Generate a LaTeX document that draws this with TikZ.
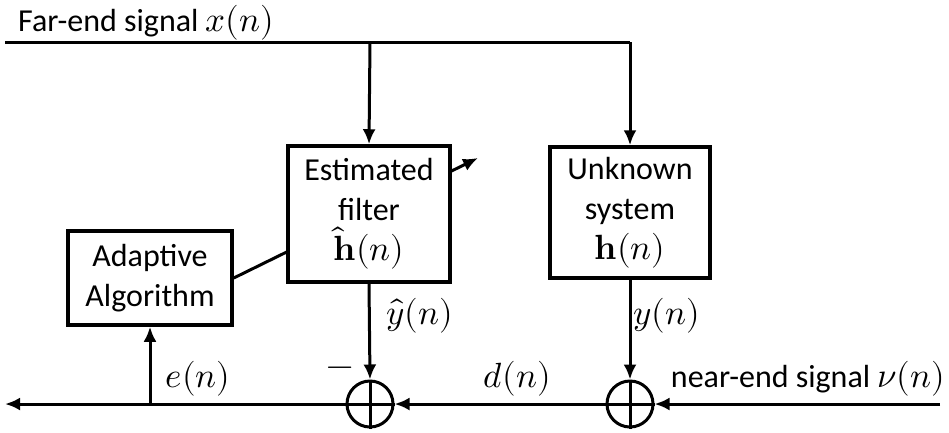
\documentclass[tikz,border=0pt]{standalone}
\usepackage{fontspec}
\usepackage{unicode-math}
\setmainfont{Carlito}
\setmathfont{Latin Modern Math}
\usetikzlibrary{arrows.meta,backgrounds}
\newcommand\mth[1]{{\fontsize{35}{40}\selectfont$#1$}}
\tikzset{
  blk/.style={draw, line width=3.5pt, fill=white, inner sep=0pt, align=center,
    font=\fontsize{32}{40}\selectfont},
  sumnode/.style={draw, circle, line width=3pt, minimum size=46pt, inner sep=0pt, fill=white},
  wire/.style={line width=3pt},
  arr/.style={wire, -{Latex[length=15pt,width=13pt]}},
  lbl/.style={font=\fontsize{32}{40}\selectfont, inner sep=0pt}
}
\begin{document}
\begin{tikzpicture}[x=1pt,y=-1pt]
\useasboundingbox (0,0) rectangle (949,432);
% blocks
\node[blk, minimum width=162pt, minimum height=136pt] (filt) at (369,214)
  {Estimated\\filter\\\mth{\hat{\symbf{h}}(n)}};
\node[blk, minimum width=160pt, minimum height=131pt] (unk) at (630,212.5)
  {Unknown\\system\\\mth{\symbf{h}(n)}};
\node[blk, minimum width=164pt, minimum height=94pt] (adapt) at (150,278)
  {Adaptive\\Algorithm};
\node[sumnode] (s1) at (370,404) {};
\node[sumnode] (s2) at (630,404) {};
% plus signs inside summers
\draw[wire] (s1.north) -- (s1.south) (s1.west) -- (s1.east);
\draw[wire] (s2.north) -- (s2.south) (s2.west) -- (s2.east);
% coordinates
\coordinate (xin) at (5,42);
\coordinate (xtap1) at (370,42);
\coordinate (xtap2) at (630,42);
\coordinate (vin) at (940,404);
\coordinate (eout) at (5,404);
\coordinate (etap) at (150,404);
\coordinate (tip) at (478,158);
% far-end line
\draw[wire] (xin) -- (xtap2);
\draw[arr] (xtap1) -- (filt.north);
\draw[arr] (xtap2) -- (unk.north);
% outputs
\draw[arr] (filt.south) -- (s1.north);
\draw[arr] (unk.south) -- (s2.north);
% bottom line
\draw[arr] (vin) -- (s2.east);
\draw[arr] (s2.west) -- (s1.east);
\draw[arr] (s1.west) -- (eout);
\draw[arr] (etap) -- (adapt.south);
% adaptation arrow through filter
\begin{pgfonlayer}{background}
\draw[arr] (adapt.east) -- (tip);
\end{pgfonlayer}
% labels
\node[lbl, anchor=base west] (far) at (18,31) {Far-end signal \mth{x(n)}};
\node[lbl] (yhat) at (420,316) {\mth{\hat{y}(n)}};
\node[lbl] (ylab) at (667,316) {\mth{y(n)}};
\node[lbl] (elab) at (198,379) {\mth{e(n)}};
\node[lbl] (dlab) at (517,379) {\mth{d(n)}};
\node[lbl] (minus) at (340,372) {\mth{-}};
\node[lbl] (near) at (808,379) {near-end signal \mth{\nu(n)}};
\end{tikzpicture}
\end{document}
